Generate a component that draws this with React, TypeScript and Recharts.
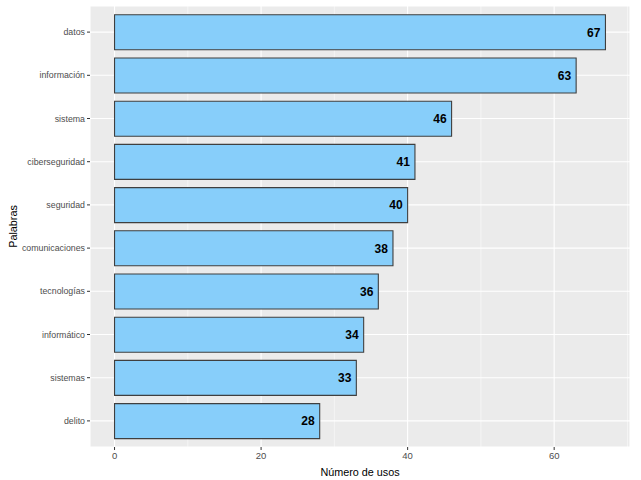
import { BarChart, Bar, XAxis, YAxis, CartesianGrid, LabelList } from 'recharts';

const palabras = [
  'datos',
  'información',
  'sistema',
  'ciberseguridad',
  'seguridad',
  'comunicaciones',
  'tecnologías',
  'informático',
  'sistemas',
  'delito',
];
const usos = [67, 63, 46, 41, 40, 38, 36, 34, 33, 28];
const xTicks = [0, 20, 40, 60];
const xMinor = [10, 30, 50, 70];
const xDomain: [number, number] = [-3.35, 70.35];

const data = palabras.map((palabra, i) => ({ palabra, usos: usos[i] }));

const FONT = '"Liberation Sans", Arial, sans-serif';

// minor vertical grid lines, placed through the x axis scale
const minorLines = (props: any) => {
  const { xAxis, offset } = props;
  if (xAxis && typeof xAxis.scale === 'function') {
    return xMinor.map((v) => xAxis.scale(v));
  }
  return xMinor.map(
    (v) => offset.left + ((v - xDomain[0]) / (xDomain[1] - xDomain[0])) * offset.width
  );
};

export default function App() {
  return (
    <div style={{ position: 'absolute', left: 0, top: 0, fontFamily: FONT }}>
      <BarChart
        width={641}
        height={480}
        data={data}
        layout="vertical"
        barCategoryGap="10%"
        margin={{ top: 6, right: 11, bottom: 0, left: 0 }}
      >
        <CartesianGrid fill="#EBEBEB" stroke="#FFFFFF" strokeWidth={1.1} />
        <CartesianGrid
          horizontal={false}
          stroke="#FFFFFF"
          strokeWidth={0.5}
          verticalCoordinatesGenerator={minorLines}
        />
        <XAxis
          type="number"
          dataKey="usos"
          domain={xDomain}
          ticks={xTicks}
          allowDataOverflow
          axisLine={false}
          tickSize={3}
          tickLine={{ stroke: '#333333' }}
          tick={{ fill: '#4D4D4D', fontSize: 9.5, fontFamily: FONT }}
          height={33}
          label={{ value: 'Número de usos', position: 'insideBottom', offset: 4, fill: '#000', fontSize: 10.8, fontFamily: FONT }}
        />
        <YAxis
          type="category"
          dataKey="palabra"
          width={90}
          padding={{ top: 4.5, bottom: 4.5 }}
          axisLine={false}
          tickSize={3}
          tickLine={{ stroke: '#333333' }}
          tick={{ fill: '#4D4D4D', fontSize: 8.8, fontFamily: FONT }}
          label={{ value: 'Palabras', angle: -90, position: 'insideLeft', offset: 13, fill: '#000', fontSize: 10.8, fontFamily: FONT, style: { textAnchor: 'middle' } }}
        />
        <Bar dataKey="usos" fill="#87CEFA" stroke="#3F3F3F" strokeWidth={1.1} isAnimationActive={false}>
          <LabelList
            dataKey="usos"
            position="insideRight"
            offset={5}
            fill="#000"
            fontSize={12}
            fontWeight="bold"
            fontFamily={FONT}
          />
        </Bar>
      </BarChart>
    </div>
  );
}
